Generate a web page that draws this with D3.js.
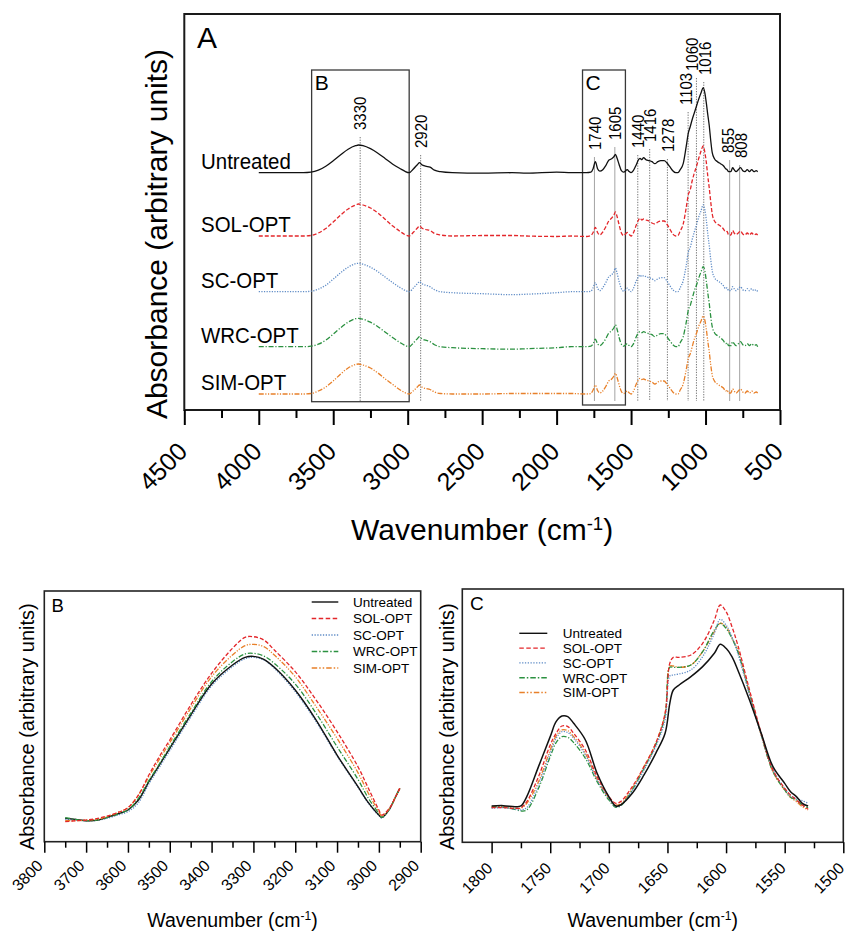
<!DOCTYPE html>
<html><head><meta charset="utf-8">
<script src="https://cdn.jsdelivr.net/npm/d3@7"></script>
<style>
body{margin:0;background:#fff}
svg{font-family:"Liberation Sans",Arial,Helvetica,sans-serif}
</style>
</head><body>
<svg id="chart" width="845" height="933"></svg>
<script>
// ---------------- DATA ----------------
const seriesNames = ["Untreated","SOL-OPT","SC-OPT","WRC-OPT","SIM-OPT"];

// Panel A: full spectra (wavenumber, cm-1) — absorbance in arbitrary units, stacked by offset
const wnA = [4000,3800,3700,3650,3600,3550,3500,3450,3400,3350,
 3330,3300,3250,3200,3150,3100,3050,3020,2990,2960,
 2935,2920,2905,2880,2850,2820,2780,2700,2500,2300,
 2200,2000,1900,1800,1770,1755,1740,1725,1710,1690,
 1670,1650,1630,1615,1605,1595,1580,1565,1550,1525,
 1515,1500,1485,1465,1450,1440,1428,1416,1400,1380,
 1360,1340,1320,1300,1278,1260,1240,1220,1200,1185,
 1170,1150,1130,1115,1103,1090,1075,1060,1045,1030,
 1016,1005,995,985,975,965,955,940,920,900,
 880,865,855,845,830,818,808,795,780,765,
 750,735,720,705,690,675,660,650];
const untreatedA = [0,0,0,0.5,2.5,6.5,12,18,23.5,27,
 27.7,27,24,19.5,14,8.5,4,1.5,0,4,
 8,10,8,6.5,5.5,2.5,1,0,-0.5,0,
 -0.5,0.5,0,0,0.5,4,11,4,1.5,3,
 7,12.5,14,16,18.4,15,8,2,0.5,3,
 1.5,0,2,8,13,14.4,13,15,13,12,
 11,9,11,12,12,10,6,2,0,0,
 3,9,26,40,46,53,60,67,74,80,
 85,80,70,58,47,32,20,14,11,9,
 7,4,3,1,1,5,3,1,3,5,
 2,1,3,1,3,1,2,1];
const solA = [0,0,0,0.5,3,7.5,14,21,27,31,
 32,31,28,23,16.5,10,4.5,1.5,0,4,
 8,10,8,6.5,5.5,2.5,1,0,0.5,0.5,
 0,-0.5,0,-0.5,0.5,3.5,8.5,3.5,1,4,
 9,15,18,21,24,20,11,3,0.5,3.5,
 2,0,3,11,16,18,16,17,16,15,
 13,12,14,15,15,12,7,2,0,0.5,
 5,12,28,42,46,55,63,70,78,85,
 90,84,74,60,48,34,22,15,12,10,
 7,4,4.5,1,1,5.5,3,1.5,3,5,
 2,1,3,1,3,1,2,1];
const scA = [0,0,0,0.5,2.5,6.5,12.5,19,24.5,28,
 28.4,27.5,24.5,20,14.5,9,4,1.5,0,4,
 8,10,8,6.5,5,2,0,-1,-2,-3,
 -2.5,-1,0,0,0.5,4,9,3.5,1,4,
 9,15,17,20,23.7,19,10,3,0.5,3.5,
 2,0,3,11,15,16.7,15,16,15,14,
 13,11,13,14,14,11,6,2,0,0,
 4,11,26,40,44,52,60,67,75,81,
 87,82,72,58,46,32,21,14,11,9,
 6,3,4,1,1,5,3,1,3,5,
 2,1,3,1,3,1,2,0];
const wrcA = [0,0,0,0.5,2.5,6.5,12.5,19,24.5,28,
 28.4,27.5,24.5,20,14.5,9,4,1.5,0,4,
 8,10,8,6.5,5,2,0,-1,-2,-2.5,
 -2,-1,0,0,0.5,3,7.5,3,1,3.5,
 8,13.5,16,19,22,18,9,2.5,0.5,3,
 1.5,0,2.5,10,14,15,14,15,14,13,
 12,10,12,13,13,10,6,2,0,0,
 4,10,24,37,41,48,56,62,69,75,
 80,76,66,54,43,30,20,14,11,9,
 6,3,4,1,1,5,3,1,3,5,
 2,1,3,1,3,1,2,0];
const simA = [0,0,0,0.5,3,7,13,20,26,29.5,
 30,29,26,21,15,9.5,4,1.5,0,3.5,
 7,9,7,5.5,4.5,2,0.5,0,0,0.5,
 0.5,0.5,0.5,0,0.5,4,9,3.5,1,3,
 7.5,13,15,18,20.7,17,9,2.5,0.5,3,
 1.5,0,2.5,10,14.5,15.7,14.5,15,14,13,
 12,10,12,13,13,10,6,2,0,0,
 4,10,24,36,40,47,55,61,68,73,
 78,74,65,53,42,29,19,13,10,8,
 6,3,4,1,1,5,3,1,3,5,
 2,1,3,1,3,1,2,1];
const offsetsA = [237.3,174,118.3,63.3,16];

// Peak annotations in panel A (label text, where the guide is drawn on the axis, label base level)
const peakWn     = [3330,2920,1740,1605,1440,1416,1278,1103,1060,1016,855,808];
const peakGuideWn= [3319,2913,1746,1609,1455,1375,1256,1117,1061,1012,838,771];
const peakLevel  = [280,262,260,270,262,268,258,305,339,335,257,252];
const peakSolid  = [false,false,true,true,false,false,false,false,false,false,true,true];
const peakTextShift = [0,0,0,0,0,0,0,-2,-4.5,1.5,-1.5,1.5];
// Zoom boxes (wavenumber ranges) shown in panel A
const boxes = [{name:"B", from:3645, to:2990, top:340, bottom:8.3},
               {name:"C", from:1826, to:1538, top:340, bottom:5}];

const xTicksA = [4500,4000,3500,3000,2500,2000,1500,1000,500];
const xMinorA = [4250,3750,3250,2750,2250,1750,1250,750];

// Panel B: O-H region
const wnB = [3750,3725,3700,3675,3650,3625,3600,3575,3550,3525,3500,3450,3400,3350,3320,3300,3275,3250,3200,3150,3100,3050,3025,3000,2993,2975,2960,2950];
const untreatedB = [6.5,6.2,5.8,5.9,6.8,7.8,9.0,12.0,17.5,22.5,27.5,37.5,46.8,52.5,54.8,55.1,54.2,51.8,45.0,36.0,25.5,16.0,11.2,7.5,6.8,9.2,13.0,15.5];
const solB = [5.5,5.8,6.0,6.4,7.2,8.2,9.7,13.5,19.5,25.0,30.0,40.5,50.0,57.5,60.8,61.0,60.0,57.0,50.5,42.0,32.5,22.0,15.5,9.0,7.5,9.5,13.0,15.5];
const scB = [6.2,6.0,5.8,5.9,6.5,7.5,8.5,11.2,16.8,21.8,26.8,36.8,46.2,52.0,54.4,54.8,54.0,51.5,44.5,35.5,25.2,15.8,11.0,7.3,6.6,9.2,13.0,15.5];
const wrcB = [6.7,6.2,5.8,6.0,6.8,7.8,9.0,12.5,17.8,22.8,28.0,38.0,47.5,53.5,55.8,56.0,55.2,53.0,46.8,38.0,28.0,18.2,12.5,8.0,6.8,9.2,13.0,15.5];
const simB = [5.8,5.8,6.0,6.2,7.0,8.2,9.7,13.5,19.0,24.2,29.2,39.5,49.0,55.5,58.3,58.7,58.0,55.5,49.0,40.0,30.5,20.2,14.0,8.5,7.2,9.4,13.0,15.5];
const xTicksB = [3800,3700,3600,3500,3400,3300,3200,3100,3000,2900];
const xMinorB = [3750,3650,3550,3450,3350,3250,3150,3050,2950];

// Panel C: carbonyl / aromatic region
const wnC = [1800,1790,1780,1775,1770,1760,1750,1745,1740,1735,1730,1720,1710,1700,1694,1690,1680,1670,1660,1652,1648,1645,1640,1630,1620,1610,1605,1600,1595,1590,1580,1570,1560,1550,1545,1540,1535,1530];
const untreatedC = [10.2,10.3,10.0,10.2,13.0,22.0,31.0,35.5,37.2,37.0,35.0,30.0,20.0,13.0,10.2,10.5,14.0,19.5,26.0,32.0,41.0,45.0,46.5,49.0,52.0,56.0,58.7,57.5,55.0,51.0,42.0,32.0,22.0,17.0,14.5,13.0,11.0,10.2];
const solC = [9.7,9.7,9.5,9.7,11.5,19.0,28.5,32.0,34.2,34.0,32.0,27.0,19.0,13.0,11.0,11.5,16.0,22.0,29.0,38.0,53.0,54.8,54.8,55.5,59.0,66.0,70.5,68.5,64.0,58.5,45.0,32.0,21.0,15.5,13.5,12.0,10.5,9.2];
const scC = [9.5,9.7,9.2,9.0,9.7,16.5,26.0,30.5,32.5,32.2,30.5,25.5,18.0,12.5,10.0,10.4,14.8,21.0,28.0,36.0,49.2,49.5,49.8,51.0,55.0,62.0,66.2,64.5,61.0,56.0,43.5,31.5,21.0,15.5,13.2,12.5,11.8,11.0];
const wrcC = [9.8,9.8,9.2,8.7,9.0,15.5,25.0,29.2,31.0,30.8,29.2,24.5,17.5,12.0,9.8,10.2,15.0,21.5,28.5,37.5,51.8,51.8,51.8,52.5,56.5,63.0,65.0,63.5,60.5,56.5,44.0,31.5,20.5,15.0,12.8,12.0,10.5,9.7];
const simC = [10.0,10.0,9.5,9.5,11.0,17.5,27.0,31.2,33.0,32.8,31.0,26.0,18.2,12.5,10.5,10.8,15.5,22.0,29.0,38.0,52.2,52.2,51.8,52.5,56.5,62.5,65.0,64.0,60.5,57.0,44.0,31.5,20.5,15.0,12.8,11.5,10.0,9.0];
const xTicksC = [1800,1750,1700,1650,1600,1550,1500];
const xMinorC = [1775,1725,1675,1625,1575,1525];

// ---------------- STYLE ----------------
const colors = ["#111111","#e3262a","#5f8cc6","#2b9140","#e8802a"];
const dashes = [null,"4,2","1.2,1.4","5,1.8,1.2,1.8","5,1.5,1.2,1.5,1.2,1.5"];
const legendDashes = [null,"4.5,2.5","1.3,1.5","5.5,2,1.5,2","5.5,2,1.5,2,1.5,2"];

const svg = d3.select("#chart");

function zip(wn, vals){ return wn.map((w,i)=>({wn:w, v:vals[i]})); }

function yTitle(g, x, y, size){
  return g.append("text").attr("text-anchor","middle").attr("font-size",size).attr("fill","#000")
    .attr("transform",`translate(${x},${y}) rotate(-90)`);
}

function xTitle(g, x, y, size){
  const t = g.append("text").attr("x",x).attr("y",y).attr("text-anchor","middle").attr("font-size",size);
  t.append("tspan").text("Wavenumber (cm");
  t.append("tspan").attr("baseline-shift","super").attr("font-size",size*0.62).text("-1");
  t.append("tspan").text(")");
}

function bottomAxis(g, x, yPos, major, minor, majorLen, minorLen, fontSize, tx, ty, sw){
  const ax = g.append("g").attr("transform",`translate(0,${yPos})`)
    .call(d3.axisBottom(x).tickValues(major).tickSize(majorLen).tickFormat(d3.format("d")));
  ax.select(".domain").remove();
  ax.selectAll(".tick line").attr("stroke","#000").attr("stroke-width",sw);
  ax.selectAll(".tick text").attr("x",null).attr("y",null).attr("dy",null)
    .attr("transform",`translate(${tx},${ty}) rotate(-45)`)
    .attr("text-anchor","end").attr("font-size",fontSize)
    .attr("font-family",'"Liberation Sans",Arial,sans-serif').attr("fill","#000");
  const mn = g.append("g").attr("transform",`translate(0,${yPos})`)
    .call(d3.axisBottom(x).tickValues(minor).tickSize(minorLen).tickFormat(""));
  mn.select(".domain").remove();
  mn.selectAll(".tick line").attr("stroke","#000").attr("stroke-width",sw);
}

// ---------------- PANEL A ----------------
const A = {l:184.3, r:780, t:14, b:410};
const xA = d3.scaleLinear().domain([4500,500]).range([A.l,A.r]);
const yA = d3.scaleLinear().domain([0,396]).range([A.b,A.t]);
const gA = svg.append("g");
const seriesA = [untreatedA, solA, scA, wrcA, simA];

// peak guide lines + labels
peakWn.forEach((w,i)=>{
  const x = xA(peakGuideWn[i]);
  gA.append("line").attr("x1",x).attr("x2",x)
    .attr("y1",yA(peakLevel[i]) + 7).attr("y2",yA(9))
    .attr("stroke", peakSolid[i] ? "#9a9a9a" : "#666")
    .attr("stroke-width", 0.9)
    .attr("stroke-dasharray", peakSolid[i] ? null : "1.3,1.3");
  gA.append("text")
    .attr("transform",`translate(${x + peakTextShift[i]},${yA(peakLevel[i])}) rotate(-90) scale(0.88,1)`)
    .attr("dy","0.36em").attr("font-size",17).text(w);
});

// boxes
boxes.forEach(b=>{
  gA.append("rect").attr("x",xA(b.from)).attr("y",yA(b.top))
    .attr("width",xA(b.to)-xA(b.from)).attr("height",yA(b.bottom)-yA(b.top))
    .attr("fill","none").attr("stroke","#3a3a3a").attr("stroke-width",1.3);
  gA.append("text").attr("x",xA(b.from)+3).attr("y",yA(b.top)+20)
    .attr("font-size",21).text(b.name);
});

// spectra
seriesA.forEach((vals,i)=>{
  const line = d3.line().x(d=>xA(d.wn)).y(d=>yA(d.v + offsetsA[i])).curve(d3.curveMonotoneX);
  gA.append("path").datum(zip(wnA, vals)).attr("d",line)
    .attr("fill","none").attr("stroke",colors[i]).attr("stroke-width",1.3)
    .attr("stroke-dasharray",dashes[i]);
  gA.append("text").attr("transform",`translate(201,${yA(offsetsA[i]) - 4}) scale(0.93,1)`)
    .attr("font-size",22).text(seriesNames[i]);
});

// frame
gA.append("rect").attr("x",A.l).attr("y",A.t).attr("width",A.r-A.l).attr("height",A.b-A.t)
  .attr("fill","none").attr("stroke","#1a1a1a").attr("stroke-width",2);
bottomAxis(gA, xA, A.b, xTicksA, xMinorA, 15, 8, 25, 4, 43, 2);
gA.append("text").attr("x",197).attr("y",47.7).attr("font-size",30).text("A");
xTitle(gA, (A.l+A.r)/2, 540, 30);
yTitle(gA, 167, 234, 30).text("Absorbance (arbitrary units)");

// ---------------- PANEL B ----------------
const B = {l:44.3, r:420.7, t:591, b:841.7};
const xB = d3.scaleLinear().domain([3800,2900]).range([B.l,B.r]);
const yB = d3.scaleLinear().domain([-0.5,74.7]).range([B.b,B.t]);
const gB = svg.append("g");
const seriesB = [untreatedB, solB, scB, wrcB, simB];
const drawOrderB = [2,0,3,4,1];
drawOrderB.forEach(i=>{
  const line = d3.line().x(d=>xB(d.wn)).y(d=>yB(d.v)).curve(d3.curveCatmullRom.alpha(0.5));
  gB.append("path").datum(zip(wnB, seriesB[i])).attr("d",line)
    .attr("fill","none").attr("stroke",colors[i]).attr("stroke-width",i===0?1.4:1.3)
    .attr("stroke-dasharray",dashes[i]);
});
gB.append("rect").attr("x",B.l).attr("y",B.t).attr("width",B.r-B.l).attr("height",B.b-B.t)
  .attr("fill","none").attr("stroke","#222").attr("stroke-width",1.6);
bottomAxis(gB, xB, B.b, xTicksB, xMinorB, 11, 6, 16, -1, 25, 1.5);
gB.append("text").attr("x",51.5).attr("y",611.7).attr("font-size",18.5).text("B");
xTitle(gB, (B.l+B.r)/2, 926.7, 19.5);
yTitle(gB, 33.7, 726.7, 20).text("Absorbance (arbitrary units)");
// legend B
seriesNames.forEach((n,i)=>{
  const y = 602 + i*16.5;
  gB.append("line").attr("x1",311.7).attr("x2",338.3).attr("y1",y).attr("y2",y)
    .attr("stroke",colors[i]).attr("stroke-width",1.4).attr("stroke-dasharray",legendDashes[i]);
  gB.append("text").attr("x",353).attr("y",y).attr("dy","0.36em").attr("font-size",13.5).text(n);
});

// ---------------- PANEL C ----------------
const C = {l:462.3, r:843.3, t:589, b:842.3};
const xC = d3.scaleLinear().domain([1825,1500]).range([C.l,C.r]);
const yC = d3.scaleLinear().domain([-0.7,75.3]).range([C.b,C.t]);
const gC = svg.append("g");
const seriesC = [untreatedC, solC, scC, wrcC, simC];
const drawOrderC = [4,3,2,1,0];
drawOrderC.forEach(i=>{
  const line = d3.line().x(d=>xC(d.wn)).y(d=>yC(d.v)).curve(d3.curveCatmullRom.alpha(0.5));
  gC.append("path").datum(zip(wnC, seriesC[i])).attr("d",line)
    .attr("fill","none").attr("stroke",colors[i]).attr("stroke-width",i===0?1.5:1.3)
    .attr("stroke-dasharray",dashes[i]);
});
gC.append("rect").attr("x",C.l).attr("y",C.t).attr("width",C.r-C.l).attr("height",C.b-C.t)
  .attr("fill","none").attr("stroke","#222").attr("stroke-width",1.6);
bottomAxis(gC, xC, C.b, xTicksC, xMinorC, 11, 6, 16, 1.5, 27, 1.5);
gC.append("text").attr("x",470).attr("y",610).attr("font-size",19).text("C");
xTitle(gC, (C.l+C.r)/2, 926.7, 19.5);
yTitle(gC, 453.7, 726.7, 20).text("Absorbance (arbitrary units)");
// legend C
seriesNames.forEach((n,i)=>{
  const y = 633.3 + i*14.8;
  gC.append("line").attr("x1",519.3).attr("x2",547.3).attr("y1",y).attr("y2",y)
    .attr("stroke",colors[i]).attr("stroke-width",1.4).attr("stroke-dasharray",legendDashes[i]);
  gC.append("text").attr("x",562.7).attr("y",y).attr("dy","0.36em").attr("font-size",13.5).text(n);
});
</script>
</body></html>
